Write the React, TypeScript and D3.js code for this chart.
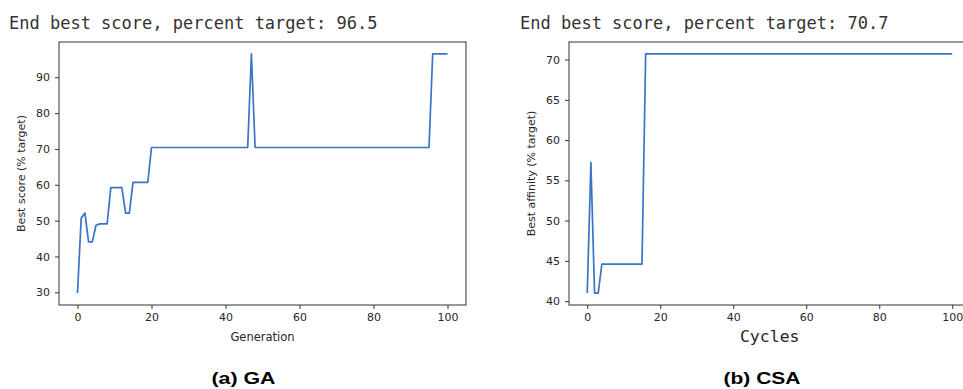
import { useEffect, useRef } from 'react';
import * as d3 from 'd3';

// GA run: best score per generation (0..100)
const gaScore = [
  29.8, 50.7, 52.1, 44.1, 44.1, 48.7, 49.1, 49.1, 49.1, 59.2,
  59.2, 59.2, 59.2, 52.1, 52.1, 60.7, 60.7, 60.7, 60.7, 60.7,
  70.4, 70.4, 70.4, 70.4, 70.4, 70.4, 70.4, 70.4, 70.4, 70.4,
  70.4, 70.4, 70.4, 70.4, 70.4, 70.4, 70.4, 70.4, 70.4, 70.4,
  70.4, 70.4, 70.4, 70.4, 70.4, 70.4, 70.4, 96.5, 70.4, 70.4,
  70.4, 70.4, 70.4, 70.4, 70.4, 70.4, 70.4, 70.4, 70.4, 70.4,
  70.4, 70.4, 70.4, 70.4, 70.4, 70.4, 70.4, 70.4, 70.4, 70.4,
  70.4, 70.4, 70.4, 70.4, 70.4, 70.4, 70.4, 70.4, 70.4, 70.4,
  70.4, 70.4, 70.4, 70.4, 70.4, 70.4, 70.4, 70.4, 70.4, 70.4,
  70.4, 70.4, 70.4, 70.4, 70.4, 70.4, 96.5, 96.5, 96.5, 96.5,
  96.5,
];

// CSA run: best affinity per cycle (0..100)
const csaAffinity = [
  41.0, 57.2, 41.0, 41.0, 44.6, 44.6, 44.6, 44.6, 44.6, 44.6,
  44.6, 44.6, 44.6, 44.6, 44.6, 44.6, 70.7, 70.7, 70.7, 70.7,
  70.7, 70.7, 70.7, 70.7, 70.7, 70.7, 70.7, 70.7, 70.7, 70.7,
  70.7, 70.7, 70.7, 70.7, 70.7, 70.7, 70.7, 70.7, 70.7, 70.7,
  70.7, 70.7, 70.7, 70.7, 70.7, 70.7, 70.7, 70.7, 70.7, 70.7,
  70.7, 70.7, 70.7, 70.7, 70.7, 70.7, 70.7, 70.7, 70.7, 70.7,
  70.7, 70.7, 70.7, 70.7, 70.7, 70.7, 70.7, 70.7, 70.7, 70.7,
  70.7, 70.7, 70.7, 70.7, 70.7, 70.7, 70.7, 70.7, 70.7, 70.7,
  70.7, 70.7, 70.7, 70.7, 70.7, 70.7, 70.7, 70.7, 70.7, 70.7,
  70.7, 70.7, 70.7, 70.7, 70.7, 70.7, 70.7, 70.7, 70.7, 70.7,
  70.7,
];

const xTicks = [0, 20, 40, 60, 80, 100];
const gaYTicks = [30, 40, 50, 60, 70, 80, 90];
const csaYTicks = [40, 45, 50, 55, 60, 65, 70];

const panels = [
  {
    values: gaScore,
    yTicks: gaYTicks,
    title: 'End best score, percent target: 96.5',
    titleX: 9,
    xLabel: 'Generation',
    xLabelMono: false,
    yLabel: 'Best score (% target)',
    caption: '(a) GA',
    captionX: 243.5,
    captionLen: 64,
    left: 59,
    right: 466,
  },
  {
    values: csaAffinity,
    yTicks: csaYTicks,
    title: 'End best score, percent target: 70.7',
    titleX: 520,
    xLabel: 'Cycles',
    xLabelMono: true,
    yLabel: 'Best affinity (% target)',
    caption: '(b) CSA',
    captionX: 762,
    captionLen: 77,
    left: 569,
    right: 970.5, // right edge falls outside the page, as in the original
  },
];

const App = () => {
  const svgRef = useRef<SVGSVGElement | null>(null);

  useEffect(() => {
    const svg = d3.select(svgRef.current);
    svg.selectAll('*').remove();

    const top = 42;
    const bottom = 305;
    const sans = 'DejaVu Sans, sans-serif';
    const mono = 'DejaVu Sans Mono, monospace';

    panels.forEach(p => {
      const g = svg.append('g');

      // matplotlib-style 5% margins around the data
      const lo = d3.min(p.values) as number;
      const hi = d3.max(p.values) as number;
      const pad = (hi - lo) * 0.05;

      const x = d3.scaleLinear().domain([-5, 105]).range([p.left, p.right]);
      const y = d3.scaleLinear().domain([lo - pad, hi + pad]).range([bottom, top]);

      const line = d3.line<number>()
        .x((_, i) => x(i))
        .y(d => y(d));

      g.append('path')
        .datum(p.values)
        .attr('d', line)
        .attr('fill', 'none')
        .attr('stroke', '#3a74c6')
        .attr('stroke-width', 1.7)
        .attr('stroke-linejoin', 'round');

      // axes frame
      g.append('rect')
        .attr('x', p.left)
        .attr('y', top)
        .attr('width', p.right - p.left)
        .attr('height', bottom - top)
        .attr('fill', 'none')
        .attr('stroke', '#333')
        .attr('stroke-width', 1);

      const xAxis = g.append('g')
        .attr('transform', `translate(0,${bottom})`)
        .call(d3.axisBottom(x).tickValues(xTicks).tickSize(4).tickPadding(4).tickSizeOuter(0));
      const yAxis = g.append('g')
        .attr('transform', `translate(${p.left},0)`)
        .call(d3.axisLeft(y).tickValues(p.yTicks).tickSize(4).tickPadding(5).tickSizeOuter(0));

      [xAxis, yAxis].forEach(a => {
        a.select('.domain').remove();
        a.selectAll('line').attr('stroke', '#333');
        a.selectAll('text')
          .attr('fill', '#262626')
          .style('font-family', sans)
          .style('font-size', '11px');
      });

      // title (printed output, monospace)
      svg.append('text')
        .attr('x', p.titleX)
        .attr('y', 29)
        .attr('fill', '#333')
        .style('font-family', mono)
        .style('font-size', '17px')
        .text(p.title);

      // x label
      svg.append('text')
        .attr('x', (p.left + p.right) / 2)
        .attr('y', p.xLabelMono ? 342 : 341)
        .attr('text-anchor', 'middle')
        .attr('fill', '#262626')
        .style('font-family', p.xLabelMono ? mono : sans)
        .style('font-size', p.xLabelMono ? '16.5px' : '11.5px')
        .text(p.xLabel);

      // y label
      svg.append('text')
        .attr('transform', `translate(${p.left - 34},${(top + bottom) / 2}) rotate(-90)`)
        .attr('text-anchor', 'middle')
        .attr('fill', '#262626')
        .style('font-family', sans)
        .style('font-size', '11px')
        .text(p.yLabel);

      // caption
      svg.append('text')
        .attr('x', p.captionX)
        .attr('y', 384)
        .attr('text-anchor', 'middle')
        .attr('fill', '#000')
        .attr('textLength', p.captionLen)
        .attr('lengthAdjust', 'spacingAndGlyphs')
        .style('font-family', 'Liberation Sans, Arial, sans-serif')
        .style('font-weight', 'bold')
        .style('font-size', '17px')
        .text(p.caption);
    });
  }, []);

  return (
    <svg
      ref={svgRef}
      width={963}
      height={389}
      style={{ position: 'absolute', left: 0, top: 0, background: '#fff' }}
    />
  );
};

export default App;
